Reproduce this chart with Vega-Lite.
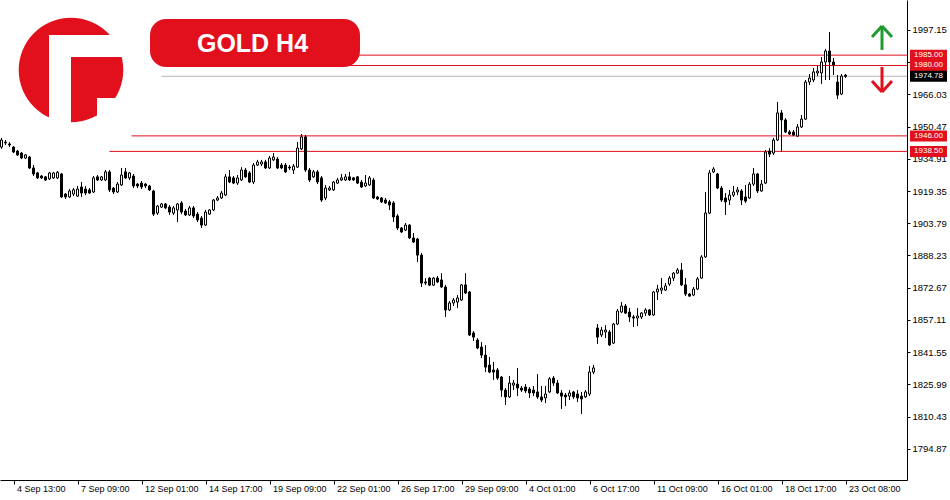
{
"$schema": "https://vega.github.io/schema/vega-lite/v6.json",
"width": 907, "height": 480,
"autosize": {"type": "none"},
"padding": {"left": 0, "top": 0, "right": 43, "bottom": 20},
"background": "#ffffff",
"config": {"view": {"stroke": null}, "font": "Liberation Sans", "axis": {"labelOverlap": false, "labelFlush": false, "grid": false}, "scale": {"continuousPadding": 0}},
"datasets": {
"candles": [
{"i":-3,"o":1940.6,"h":1945.0,"l":1939.7,"c":1944.0},
{"i":-2,"o":1943.0,"h":1944.0,"l":1941.6,"c":1942.6},
{"i":-1,"o":1942.1,"h":1943.0,"l":1940.6,"c":1941.6},
{"i":0,"o":1940.6,"h":1941.1,"l":1937.7,"c":1938.2},
{"i":1,"o":1938.7,"h":1939.2,"l":1936.3,"c":1936.8},
{"i":2,"o":1937.7,"h":1938.2,"l":1934.8,"c":1935.3},
{"i":3,"o":1935.3,"h":1937.2,"l":1934.8,"c":1936.8},
{"i":4,"o":1935.8,"h":1936.3,"l":1930.0,"c":1930.5},
{"i":5,"o":1930.5,"h":1931.9,"l":1926.6,"c":1927.6},
{"i":6,"o":1928.1,"h":1928.6,"l":1925.2,"c":1925.7},
{"i":7,"o":1926.6,"h":1927.1,"l":1925.2,"c":1925.7},
{"i":8,"o":1926.2,"h":1926.6,"l":1924.2,"c":1924.7},
{"i":9,"o":1925.2,"h":1928.6,"l":1924.7,"c":1928.1},
{"i":10,"o":1925.7,"h":1928.6,"l":1925.2,"c":1928.1},
{"i":11,"o":1925.7,"h":1929.0,"l":1925.2,"c":1928.4},
{"i":12,"o":1927.6,"h":1928.1,"l":1916.0,"c":1916.5},
{"i":13,"o":1917.9,"h":1918.4,"l":1915.5,"c":1916.5},
{"i":14,"o":1916.5,"h":1920.3,"l":1916.0,"c":1919.4},
{"i":15,"o":1917.9,"h":1920.8,"l":1916.9,"c":1919.9},
{"i":16,"o":1916.9,"h":1921.8,"l":1916.5,"c":1920.3},
{"i":17,"o":1921.3,"h":1923.7,"l":1916.5,"c":1918.4},
{"i":18,"o":1920.3,"h":1921.8,"l":1917.4,"c":1918.4},
{"i":19,"o":1919.9,"h":1920.8,"l":1917.9,"c":1918.4},
{"i":20,"o":1918.9,"h":1926.6,"l":1918.4,"c":1925.7},
{"i":21,"o":1926.2,"h":1927.1,"l":1924.2,"c":1924.7},
{"i":22,"o":1924.7,"h":1926.6,"l":1924.2,"c":1926.2},
{"i":23,"o":1924.7,"h":1929.5,"l":1924.2,"c":1928.6},
{"i":24,"o":1928.6,"h":1929.5,"l":1918.9,"c":1919.9},
{"i":25,"o":1920.8,"h":1921.3,"l":1917.9,"c":1918.9},
{"i":26,"o":1918.9,"h":1923.7,"l":1918.4,"c":1922.7},
{"i":27,"o":1922.3,"h":1930.5,"l":1921.8,"c":1927.1},
{"i":28,"o":1928.6,"h":1930.5,"l":1925.2,"c":1925.7},
{"i":29,"o":1925.7,"h":1928.6,"l":1924.7,"c":1928.1},
{"i":30,"o":1926.6,"h":1927.6,"l":1920.8,"c":1921.8},
{"i":31,"o":1922.7,"h":1923.2,"l":1920.8,"c":1921.8},
{"i":32,"o":1923.2,"h":1924.2,"l":1920.3,"c":1921.3},
{"i":33,"o":1922.7,"h":1923.2,"l":1920.8,"c":1921.8},
{"i":34,"o":1921.8,"h":1922.3,"l":1919.4,"c":1919.9},
{"i":35,"o":1919.4,"h":1919.9,"l":1907.3,"c":1908.2},
{"i":36,"o":1908.7,"h":1912.6,"l":1907.8,"c":1912.1},
{"i":37,"o":1911.6,"h":1913.6,"l":1911.2,"c":1913.1},
{"i":38,"o":1913.1,"h":1913.6,"l":1910.7,"c":1911.2},
{"i":39,"o":1911.6,"h":1912.6,"l":1907.8,"c":1909.2},
{"i":40,"o":1908.7,"h":1912.1,"l":1907.8,"c":1911.2},
{"i":41,"o":1910.2,"h":1913.6,"l":1904.4,"c":1913.1},
{"i":42,"o":1913.6,"h":1914.5,"l":1908.2,"c":1909.2},
{"i":43,"o":1909.7,"h":1910.7,"l":1907.3,"c":1907.8},
{"i":44,"o":1907.8,"h":1912.1,"l":1907.3,"c":1911.2},
{"i":45,"o":1911.2,"h":1912.1,"l":1906.3,"c":1907.3},
{"i":46,"o":1908.2,"h":1909.2,"l":1904.4,"c":1905.4},
{"i":47,"o":1906.3,"h":1907.3,"l":1901.5,"c":1902.9},
{"i":48,"o":1902.9,"h":1910.2,"l":1902.5,"c":1909.2},
{"i":49,"o":1908.2,"h":1910.7,"l":1907.8,"c":1910.2},
{"i":50,"o":1910.2,"h":1915.5,"l":1909.7,"c":1915.0},
{"i":51,"o":1915.0,"h":1916.9,"l":1914.5,"c":1916.0},
{"i":52,"o":1916.0,"h":1919.4,"l":1915.5,"c":1918.4},
{"i":53,"o":1917.4,"h":1927.6,"l":1916.9,"c":1926.2},
{"i":54,"o":1926.2,"h":1929.5,"l":1923.2,"c":1923.7},
{"i":55,"o":1925.7,"h":1926.6,"l":1922.7,"c":1923.2},
{"i":56,"o":1923.2,"h":1927.1,"l":1922.3,"c":1925.7},
{"i":57,"o":1924.7,"h":1930.9,"l":1924.2,"c":1929.5},
{"i":58,"o":1929.5,"h":1930.5,"l":1925.7,"c":1926.2},
{"i":59,"o":1928.1,"h":1929.0,"l":1923.2,"c":1923.7},
{"i":60,"o":1923.7,"h":1932.9,"l":1922.7,"c":1931.9},
{"i":61,"o":1931.9,"h":1934.4,"l":1931.4,"c":1933.4},
{"i":62,"o":1932.4,"h":1934.4,"l":1931.4,"c":1933.4},
{"i":63,"o":1933.4,"h":1934.4,"l":1930.0,"c":1930.5},
{"i":64,"o":1930.5,"h":1936.3,"l":1930.0,"c":1935.3},
{"i":65,"o":1934.4,"h":1937.7,"l":1933.9,"c":1935.8},
{"i":66,"o":1934.8,"h":1935.8,"l":1930.0,"c":1930.5},
{"i":67,"o":1931.9,"h":1932.9,"l":1930.0,"c":1930.5},
{"i":68,"o":1931.9,"h":1932.9,"l":1928.1,"c":1928.6},
{"i":69,"o":1930.9,"h":1931.9,"l":1929.5,"c":1930.5},
{"i":70,"o":1929.5,"h":1932.4,"l":1927.6,"c":1931.4},
{"i":71,"o":1930.9,"h":1943.0,"l":1930.5,"c":1940.1},
{"i":72,"o":1939.7,"h":1946.9,"l":1939.2,"c":1945.5},
{"i":73,"o":1945.5,"h":1946.4,"l":1928.6,"c":1929.5},
{"i":74,"o":1929.5,"h":1930.5,"l":1923.7,"c":1924.7},
{"i":75,"o":1926.2,"h":1929.5,"l":1925.7,"c":1928.6},
{"i":76,"o":1928.6,"h":1929.5,"l":1922.7,"c":1923.7},
{"i":77,"o":1925.7,"h":1926.6,"l":1914.1,"c":1915.0},
{"i":78,"o":1916.0,"h":1922.3,"l":1915.0,"c":1920.8},
{"i":79,"o":1919.9,"h":1921.8,"l":1919.4,"c":1920.8},
{"i":80,"o":1919.9,"h":1924.2,"l":1919.4,"c":1923.7},
{"i":81,"o":1923.2,"h":1925.7,"l":1922.7,"c":1924.7},
{"i":82,"o":1924.7,"h":1927.6,"l":1924.2,"c":1925.7},
{"i":83,"o":1924.7,"h":1927.6,"l":1924.2,"c":1926.2},
{"i":84,"o":1926.2,"h":1928.6,"l":1924.2,"c":1924.7},
{"i":85,"o":1925.7,"h":1926.2,"l":1924.2,"c":1924.7},
{"i":86,"o":1926.2,"h":1926.6,"l":1922.7,"c":1923.2},
{"i":87,"o":1923.7,"h":1924.7,"l":1920.8,"c":1921.3},
{"i":88,"o":1921.8,"h":1927.1,"l":1921.3,"c":1923.2},
{"i":89,"o":1922.3,"h":1926.6,"l":1921.8,"c":1925.7},
{"i":90,"o":1924.7,"h":1925.7,"l":1915.5,"c":1916.0},
{"i":91,"o":1916.5,"h":1916.9,"l":1915.0,"c":1915.5},
{"i":92,"o":1916.0,"h":1916.5,"l":1913.6,"c":1914.1},
{"i":93,"o":1915.0,"h":1916.0,"l":1913.1,"c":1913.6},
{"i":94,"o":1914.1,"h":1915.0,"l":1910.2,"c":1912.6},
{"i":95,"o":1913.6,"h":1914.5,"l":1904.4,"c":1906.8},
{"i":96,"o":1907.3,"h":1908.2,"l":1900.5,"c":1901.5},
{"i":97,"o":1901.5,"h":1902.0,"l":1899.1,"c":1899.6},
{"i":98,"o":1900.5,"h":1903.9,"l":1900.0,"c":1902.9},
{"i":99,"o":1902.9,"h":1903.4,"l":1896.2,"c":1896.7},
{"i":100,"o":1896.7,"h":1899.1,"l":1894.3,"c":1894.7},
{"i":101,"o":1896.2,"h":1896.7,"l":1885.1,"c":1888.4},
{"i":102,"o":1888.4,"h":1889.4,"l":1873.0,"c":1874.9},
{"i":103,"o":1875.4,"h":1877.3,"l":1873.9,"c":1874.9},
{"i":104,"o":1877.3,"h":1877.8,"l":1873.5,"c":1873.9},
{"i":105,"o":1873.9,"h":1877.8,"l":1873.5,"c":1877.3},
{"i":106,"o":1877.3,"h":1878.3,"l":1874.9,"c":1875.4},
{"i":107,"o":1876.4,"h":1879.7,"l":1872.5,"c":1873.0},
{"i":108,"o":1873.0,"h":1874.0,"l":1858.5,"c":1861.9},
{"i":109,"o":1861.9,"h":1866.2,"l":1861.4,"c":1865.3},
{"i":110,"o":1865.3,"h":1867.7,"l":1863.8,"c":1866.7},
{"i":111,"o":1865.7,"h":1869.1,"l":1862.8,"c":1867.7},
{"i":112,"o":1866.7,"h":1874.4,"l":1866.2,"c":1874.0},
{"i":113,"o":1874.0,"h":1879.7,"l":1869.6,"c":1870.1},
{"i":114,"o":1870.6,"h":1871.1,"l":1849.3,"c":1849.8},
{"i":115,"o":1850.8,"h":1851.7,"l":1846.9,"c":1848.8},
{"i":116,"o":1847.4,"h":1848.3,"l":1843.0,"c":1843.5},
{"i":117,"o":1844.0,"h":1846.4,"l":1838.7,"c":1840.1},
{"i":118,"o":1840.1,"h":1844.9,"l":1831.9,"c":1834.3},
{"i":119,"o":1835.3,"h":1839.2,"l":1831.4,"c":1831.9},
{"i":120,"o":1832.9,"h":1836.8,"l":1828.1,"c":1831.9},
{"i":121,"o":1832.9,"h":1833.9,"l":1828.1,"c":1829.0},
{"i":122,"o":1829.5,"h":1830.0,"l":1819.9,"c":1823.2},
{"i":123,"o":1823.2,"h":1824.2,"l":1816.0,"c":1819.9},
{"i":124,"o":1819.9,"h":1830.0,"l":1819.4,"c":1826.6},
{"i":125,"o":1825.6,"h":1828.1,"l":1823.2,"c":1826.6},
{"i":126,"o":1826.1,"h":1833.9,"l":1820.3,"c":1824.2},
{"i":127,"o":1824.2,"h":1825.2,"l":1822.3,"c":1823.2},
{"i":128,"o":1824.7,"h":1826.1,"l":1821.8,"c":1822.8},
{"i":129,"o":1823.7,"h":1824.7,"l":1819.4,"c":1821.8},
{"i":130,"o":1823.2,"h":1825.2,"l":1820.3,"c":1821.8},
{"i":131,"o":1822.3,"h":1830.9,"l":1818.9,"c":1819.9},
{"i":132,"o":1819.9,"h":1825.2,"l":1817.4,"c":1818.4},
{"i":133,"o":1819.4,"h":1825.2,"l":1816.9,"c":1821.3},
{"i":134,"o":1822.3,"h":1829.5,"l":1821.8,"c":1828.6},
{"i":135,"o":1829.0,"h":1830.0,"l":1825.2,"c":1826.6},
{"i":136,"o":1826.6,"h":1828.1,"l":1821.3,"c":1821.8},
{"i":137,"o":1821.8,"h":1823.2,"l":1814.1,"c":1820.3},
{"i":138,"o":1820.8,"h":1821.8,"l":1815.5,"c":1819.9},
{"i":139,"o":1820.3,"h":1823.2,"l":1818.4,"c":1821.8},
{"i":140,"o":1822.3,"h":1822.8,"l":1818.9,"c":1819.9},
{"i":141,"o":1821.3,"h":1823.2,"l":1817.4,"c":1819.4},
{"i":142,"o":1820.3,"h":1822.3,"l":1811.6,"c":1818.9},
{"i":143,"o":1819.9,"h":1823.2,"l":1819.4,"c":1822.3},
{"i":144,"o":1821.3,"h":1834.8,"l":1820.3,"c":1831.9},
{"i":145,"o":1831.9,"h":1835.3,"l":1830.9,"c":1833.9},
{"i":146,"o":1853.2,"h":1855.1,"l":1845.5,"c":1848.8},
{"i":147,"o":1849.8,"h":1853.7,"l":1848.8,"c":1852.2},
{"i":148,"o":1851.3,"h":1854.6,"l":1848.3,"c":1852.2},
{"i":149,"o":1851.3,"h":1852.2,"l":1844.5,"c":1845.0},
{"i":150,"o":1845.9,"h":1855.6,"l":1845.5,"c":1855.1},
{"i":151,"o":1855.1,"h":1862.4,"l":1854.6,"c":1861.4},
{"i":152,"o":1860.9,"h":1865.7,"l":1860.4,"c":1863.8},
{"i":153,"o":1863.8,"h":1864.8,"l":1859.9,"c":1860.4},
{"i":154,"o":1860.9,"h":1862.8,"l":1856.1,"c":1858.5},
{"i":155,"o":1858.5,"h":1859.5,"l":1853.7,"c":1858.0},
{"i":156,"o":1858.0,"h":1862.8,"l":1854.1,"c":1859.0},
{"i":157,"o":1858.5,"h":1860.9,"l":1857.5,"c":1860.4},
{"i":158,"o":1860.4,"h":1862.8,"l":1859.0,"c":1861.9},
{"i":159,"o":1861.9,"h":1862.4,"l":1859.0,"c":1859.5},
{"i":160,"o":1859.5,"h":1871.1,"l":1859.0,"c":1870.6},
{"i":161,"o":1870.6,"h":1874.0,"l":1866.7,"c":1872.0},
{"i":162,"o":1871.5,"h":1877.3,"l":1869.6,"c":1872.5},
{"i":163,"o":1871.5,"h":1874.9,"l":1871.1,"c":1873.5},
{"i":164,"o":1874.4,"h":1878.3,"l":1873.5,"c":1877.3},
{"i":165,"o":1877.3,"h":1880.2,"l":1875.9,"c":1879.7},
{"i":166,"o":1879.7,"h":1882.2,"l":1879.3,"c":1881.2},
{"i":167,"o":1881.2,"h":1884.6,"l":1873.5,"c":1874.0},
{"i":168,"o":1874.0,"h":1877.3,"l":1868.6,"c":1869.6},
{"i":169,"o":1869.6,"h":1870.1,"l":1868.2,"c":1868.6},
{"i":170,"o":1869.1,"h":1873.0,"l":1868.6,"c":1872.0},
{"i":171,"o":1872.0,"h":1877.8,"l":1871.5,"c":1876.9},
{"i":172,"o":1877.3,"h":1888.4,"l":1876.9,"c":1887.5},
{"i":173,"o":1887.5,"h":1918.9,"l":1887.0,"c":1908.7},
{"i":174,"o":1908.7,"h":1929.5,"l":1908.2,"c":1928.1},
{"i":175,"o":1928.6,"h":1930.9,"l":1928.1,"c":1930.0},
{"i":176,"o":1927.6,"h":1928.1,"l":1920.3,"c":1920.8},
{"i":177,"o":1920.8,"h":1921.8,"l":1914.1,"c":1915.0},
{"i":178,"o":1916.0,"h":1918.4,"l":1907.8,"c":1914.1},
{"i":179,"o":1915.0,"h":1919.9,"l":1912.6,"c":1917.4},
{"i":180,"o":1917.4,"h":1921.8,"l":1916.5,"c":1918.9},
{"i":181,"o":1918.9,"h":1921.3,"l":1917.4,"c":1919.9},
{"i":182,"o":1919.4,"h":1920.3,"l":1912.6,"c":1915.0},
{"i":183,"o":1916.5,"h":1922.3,"l":1913.6,"c":1914.5},
{"i":184,"o":1916.0,"h":1923.7,"l":1915.5,"c":1922.7},
{"i":185,"o":1922.7,"h":1930.5,"l":1921.8,"c":1927.6},
{"i":186,"o":1927.6,"h":1928.1,"l":1918.4,"c":1919.4},
{"i":187,"o":1919.4,"h":1924.7,"l":1918.9,"c":1922.7},
{"i":188,"o":1923.2,"h":1939.2,"l":1922.7,"c":1938.2},
{"i":189,"o":1938.7,"h":1940.1,"l":1935.8,"c":1937.2},
{"i":190,"o":1937.7,"h":1945.0,"l":1936.8,"c":1944.0},
{"i":191,"o":1944.0,"h":1962.4,"l":1943.5,"c":1957.1},
{"i":192,"o":1957.1,"h":1958.5,"l":1938.2,"c":1953.7},
{"i":193,"o":1953.7,"h":1954.6,"l":1947.4,"c":1947.9},
{"i":194,"o":1947.9,"h":1948.8,"l":1946.4,"c":1946.9},
{"i":195,"o":1947.9,"h":1948.8,"l":1945.9,"c":1946.4},
{"i":196,"o":1945.9,"h":1951.7,"l":1945.5,"c":1950.3},
{"i":197,"o":1950.3,"h":1956.1,"l":1949.8,"c":1954.1},
{"i":198,"o":1954.1,"h":1973.0,"l":1953.7,"c":1972.0},
{"i":199,"o":1972.0,"h":1975.9,"l":1970.6,"c":1973.9},
{"i":200,"o":1973.0,"h":1978.8,"l":1972.0,"c":1976.9},
{"i":201,"o":1976.4,"h":1979.8,"l":1974.9,"c":1977.3},
{"i":202,"o":1976.4,"h":1984.1,"l":1971.1,"c":1981.7},
{"i":203,"o":1981.7,"h":1988.0,"l":1973.0,"c":1987.0},
{"i":204,"o":1987.0,"h":1996.2,"l":1973.0,"c":1981.7},
{"i":205,"o":1981.7,"h":1983.6,"l":1975.4,"c":1980.2},
{"i":206,"o":1972.0,"h":1975.4,"l":1963.8,"c":1965.7},
{"i":207,"o":1966.2,"h":1975.9,"l":1965.7,"c":1974.9},
{"i":208,"o":1975.3,"h":1975.9,"l":1974.0,"c":1974.78}
],
"levels": [
{"price":1985,"label":"1985.00","from":37,"kind":"level"},
{"price":1980,"label":"1980.00","from":37,"kind":"level"},
{"price":1974.78,"label":"1974.78","from":37,"kind":"bid"},
{"price":1946,"label":"1946.00","from":29.5,"kind":"level"},
{"price":1938.5,"label":"1938.50","from":24,"kind":"level"}
]
},
"layer": [
{"data": {"name": "levels"},
 "mark": {"type": "rule", "strokeWidth": 1},
 "encoding": {
  "x": {"field": "from", "type": "quantitative", "title": null, "scale": {"domain": [-3.375, 223.375], "nice": false, "zero": false, "padding": 0},
        "axis": {"orient": "bottom", "values": [0,16,32,48,64,80,96,112,128,144,160,176,192,208], "tickCount": 40,
          "labelExpr": "['4 Sep 13:00','7 Sep 09:00','12 Sep 01:00','14 Sep 17:00','19 Sep 09:00','22 Sep 01:00','26 Sep 17:00','29 Sep 09:00','4 Oct 01:00','6 Oct 17:00','11 Oct 09:00','16 Oct 01:00','18 Oct 17:00','23 Oct 08:00'][round(datum.value/16)]",
          "labelAlign": "left", "labelBaseline": "top", "labelPadding": 0, "labelOffset": 3,
          "labelFont": "Liberation Sans", "labelFontSize": 9, "labelColor": "#000000",
          "tickColor": "#000000", "tickSize": 4, "domainColor": "#000000", "grid": false, "title": null,
          "labelOverlap": false, "labelFlush": false, "labelBound": false}},
  "x2": {"datum": 223.375},
  "y": {"field": "price", "type": "quantitative", "title": null, "scale": {"domain": [1779.76, 2011.64], "nice": false, "zero": false, "padding": 0},
        "axis": {"orient": "right", "values": [1794.87,1810.43,1825.99,1841.55,1857.11,1872.67,1888.23,1903.79,1919.35,1934.91,1950.47,1966.03,1981.59,1997.15], "tickCount": 40,
          "format": ".2f", "labelFont": "Liberation Sans", "labelFontSize": 9.5, "labelColor": "#000000",
          "tickColor": "#000000", "tickSize": 3, "labelPadding": 2, "domainColor": "#000000", "grid": false, "title": null,
          "labelOverlap": false, "labelFlush": false, "labelBound": false}},
  "color": {"condition": {"test": "datum.kind === 'bid'", "value": "#b4b4b4"}, "value": "#e2101c"}
 }},
{"data": {"name": "candles"},
 "mark": {"type": "rule", "color": "#000000", "strokeWidth": 1},
 "encoding": {
  "x": {"field": "i", "type": "quantitative", "title": null},
  "y": {"field": "l", "type": "quantitative", "title": null},
  "y2": {"field": "h"}
 }},
{"data": {"name": "candles"},
 "mark": {"type": "bar", "size": 2, "stroke": "#000000", "strokeWidth": 1},
 "encoding": {
  "x": {"field": "i", "type": "quantitative", "title": null},
  "y": {"field": "o", "type": "quantitative", "title": null},
  "y2": {"field": "c"},
  "fill": {"condition": {"test": "datum.c >= datum.o", "value": "#ffffff"}, "value": "#000000"}
 }},
{"data": {"name": "levels"},
 "mark": {"type": "bar", "orient": "horizontal", "size": 11},
 "encoding": {
  "x": {"datum": 224.125, "type": "quantitative"},
  "x2": {"datum": 233.375},
  "y": {"field": "price", "type": "quantitative", "title": null},
  "color": {"condition": {"test": "datum.kind === 'bid'", "value": "#000000"}, "value": "#e2101c"}
 }},
{"data": {"name": "levels"},
 "mark": {"type": "text", "color": "#ffffff", "font": "Liberation Sans", "fontSize": 8, "align": "center", "baseline": "middle"},
 "encoding": {
  "x": {"datum": 228.75, "type": "quantitative"},
  "y": {"field": "price", "type": "quantitative", "title": null},
  "text": {"field": "label"}
 }},
{"data": {"values": [{}]},
 "mark": {"type": "rect", "color": "#e2101c", "cornerRadius": 16},
 "encoding": {
  "x": {"datum": 34.125, "type": "quantitative"}, "x2": {"datum": 86.625},
  "y": {"datum": 2002.46, "type": "quantitative"}, "y2": {"datum": 1979.27}
 }},
{"data": {"values": [{"t": "GOLD H4"}]},
 "mark": {"type": "text", "color": "#ffffff", "font": "Liberation Sans", "fontWeight": "bold", "fontSize": 25, "align": "center", "baseline": "middle"},
 "encoding": {
  "x": {"datum": 59.75, "type": "quantitative"},
  "y": {"datum": 1990.6, "type": "quantitative"},
  "text": {"field": "t"}
 }},
{"data": {"values": [{}]},
 "mark": {"type": "point", "shape": "circle", "filled": true, "opacity": 1, "color": "#e2101c", "size": 10936},
 "encoding": {
  "x": {"datum": 14.375, "type": "quantitative"},
  "y": {"datum": 1977.82, "type": "quantitative"}
 }},
{"data": {"values": [{}]},
 "mark": {"type": "rect", "color": "#ffffff"},
 "encoding": {
  "x": {"datum": 8.875, "type": "quantitative"}, "x2": {"datum": 14.375},
  "y": {"datum": 1994.73, "type": "quantitative"}, "y2": {"datum": 1948.84}
 }},
{"data": {"values": [{}]},
 "mark": {"type": "rect", "color": "#ffffff"},
 "encoding": {
  "x": {"datum": 8.875, "type": "quantitative"}, "x2": {"datum": 29.625},
  "y": {"datum": 1994.73, "type": "quantitative"}, "y2": {"datum": 1984.1}
 }},
{"data": {"values": [{}]},
 "mark": {"type": "rect", "color": "#ffffff"},
 "encoding": {
  "x": {"datum": 20.875, "type": "quantitative"}, "x2": {"datum": 29.625},
  "y": {"datum": 1964.3, "type": "quantitative"}, "y2": {"datum": 1948.84}
 }},
{"data": {"values": [{}]},
 "mark": {"type": "rule", "color": "#1f9a2e", "strokeWidth": 3},
 "encoding": {
  "x": {"datum": 217.125, "type": "quantitative"}, "x2": {"datum": 217.125},
  "y": {"datum": 1998.6, "type": "quantitative"}, "y2": {"datum": 1987.5}
 }},
{"data": {"values": [{}]},
 "mark": {"type": "rule", "color": "#1f9a2e", "strokeWidth": 3},
 "encoding": {
  "x": {"datum": 214.625, "type": "quantitative"}, "x2": {"datum": 217.125},
  "y": {"datum": 1993.8, "type": "quantitative"}, "y2": {"datum": 1999.1}
 }},
{"data": {"values": [{}]},
 "mark": {"type": "rule", "color": "#1f9a2e", "strokeWidth": 3},
 "encoding": {
  "x": {"datum": 219.625, "type": "quantitative"}, "x2": {"datum": 217.125},
  "y": {"datum": 1993.8, "type": "quantitative"}, "y2": {"datum": 1999.1}
 }},
{"data": {"values": [{}]},
 "mark": {"type": "rule", "color": "#e2101c", "strokeWidth": 3},
 "encoding": {
  "x": {"datum": 217.125, "type": "quantitative"}, "x2": {"datum": 217.125},
  "y": {"datum": 1979.3, "type": "quantitative"}, "y2": {"datum": 1967.7}
 }},
{"data": {"values": [{}]},
 "mark": {"type": "rule", "color": "#e2101c", "strokeWidth": 3},
 "encoding": {
  "x": {"datum": 214.625, "type": "quantitative"}, "x2": {"datum": 217.125},
  "y": {"datum": 1972.5, "type": "quantitative"}, "y2": {"datum": 1967.2}
 }},
{"data": {"values": [{}]},
 "mark": {"type": "rule", "color": "#e2101c", "strokeWidth": 3},
 "encoding": {
  "x": {"datum": 219.625, "type": "quantitative"}, "x2": {"datum": 217.125},
  "y": {"datum": 1972.5, "type": "quantitative"}, "y2": {"datum": 1967.2}
 }}
]
}
